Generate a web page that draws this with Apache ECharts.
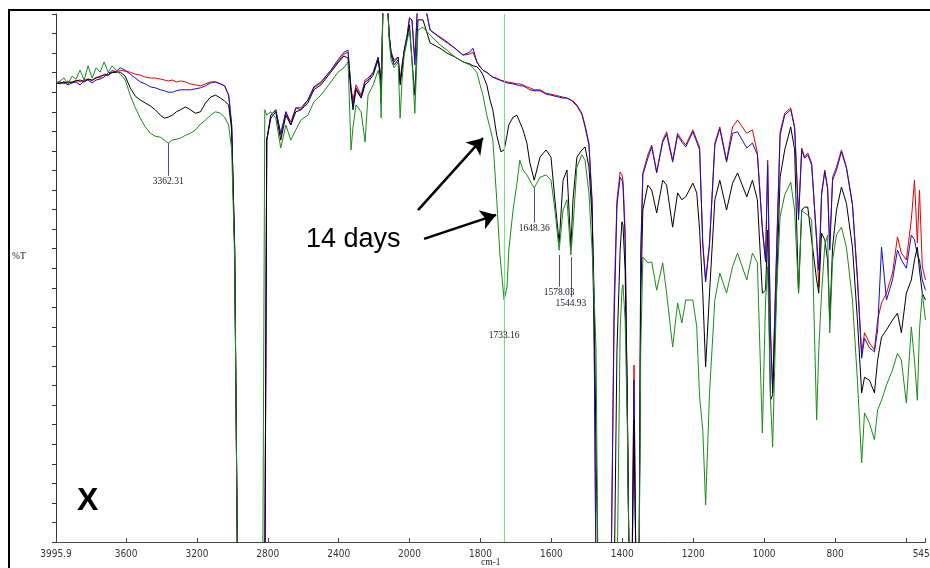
<!DOCTYPE html>
<html><head><meta charset="utf-8">
<script src="https://cdn.jsdelivr.net/npm/echarts@6/dist/echarts.min.js"></script>
<style>html,body{margin:0;padding:0;background:#fff}#c{width:930px;height:568px}</style>
</head><body><div id="c"></div>
<script>
// wavenumbers (cm-1) shared by the four spectra
const wavenumbers = [3995.9,3973,3951,3928,3905,3883,3860,3837,3815,3792,3769,3747,3724,3701,3679,3656,3633,3605,3577,3548,3520,3492,3463,3435,3407,3384,3362.31,3339,3316,3293,3265,3237,3208,3180,3152,3123,3095,3067,3044,3021,3004,2987,2970,2829,2817,2806,2783,2755,2727,2698,2670,2642,2613,2574,2540,2500,2444,2404,2370,2347,2330,2319,2302,2273,2251,2234,2205,2177,2166,2160,2149,2126,2115,2104,2087,2064,2053,2042,2030,2013,2000,
1993,1985,1976,1962,1942,1914,1894,1872,1849,1830,1821,1810,1801,1793,1782,1773,1765,1754,1745,1742,1733.16,1725,1720,1708,1697,1689,1680,1669,1661,1648.36,1632,1615,1601,1590,1578.03,1567,1556,1544.93,1539,1528,1514,1505,1494,1485,1479,1474,1468,1432,1423,1415,1406,1401,1398,1392,1386,1380,1373,1367,1361,1353,1348,1342,1328,1317,1303,1286,1275,1258,1244,1232,1221,1201,1190,1182,1173,1165,1154,1139,1125,1106,1089,1075,1049,1033,1019,1005,996,990,982,976,965,955,942,925,914,903,894,886,877,866,852,846,838,829,821,815,807,796,782,768,751,737,725,717,703,689,680,669,655,638,624,613,599,585,576,568,562,554,545];

// %T values (arbitrary %T scale, 0-108)
const redT = [93.9,94.1,93.7,94.3,93.9,94.5,94.1,94.5,94.7,94.3,95.1,94.9,95.7,95.5,96.5,96.1,96.5,96.3,96.1,95.7,95.5,95.1,94.9,94.9,94.7,94.5,94.3,94.5,94.1,94.3,94.1,93.7,93.5,93.3,93.7,94.1,94.1,93.7,93.3,91.4,85.3,59.7,-10,-10,-10,82.2,87.3,88.4,83.2,88.0,85.9,88.8,88.4,90.4,92.9,93.9,96.5,98.2,99.8,100.2,92.9,90.4,93.5,91.4,94.5,94.9,96.1,99.0,96.5,90.4,112,112,103.7,100.2,98.6,99.2,94.5,97.6,100.6,103.7,107.2,
106.8,98.6,112,112,104.7,103.1,102.1,101.0,99.6,99.8,100.2,98.2,97.2,96.5,96.1,95.5,95.1,94.9,94.5,94.5,94.3,94.1,94.1,93.9,93.7,93.7,93.5,93.1,92.9,92.5,92.5,91.8,91.6,91.4,91.2,91.0,90.8,90.4,90.2,89.4,87.7,85.3,81.6,70.0,39.3,-10,-10,-10,49.5,70.0,75.7,75.1,74.0,63.8,29.0,-10,-10,36.2,-10,-10,59.7,75.5,79.2,81.2,75.7,82.2,83.9,78.1,83.6,82.2,81.2,84.3,82.2,80.8,61.2,53.6,61.2,81.6,84.9,78.1,84.9,86.3,83.6,84.3,79.6,64.4,57.7,78.1,43.4,31.1,59.7,83.9,87.7,88.8,84.9,66.9,80.6,78.7,79.6,77.5,61.2,52.2,71.4,76.1,72.6,60.3,74.6,76.7,80.2,76.7,69.3,54.2,38.6,42.8,40.7,39.3,45.4,48.9,50.9,55.0,62.4,59.1,57.7,65.9,74.0,61.2,72.0,56.3,53.6];
const blueT = [93.9,93.7,94.1,93.5,93.9,94.1,93.5,94.3,94.5,93.9,94.5,94.7,95.1,96.0,96.1,96.3,97.0,96.5,95.7,94.9,94.1,93.7,93.1,92.9,92.5,92.3,92.0,92.0,92.3,92.5,92.5,92.5,92.7,92.9,93.3,93.9,94.1,93.7,93.3,91.4,85.3,59.7,-10,-10,-10,82.2,87.3,88.4,83.6,88.0,85.3,88.8,88.8,90.4,93.1,94.1,96.5,98.6,100.2,100.6,92.5,89.4,92.9,91.0,94.1,94.5,96.0,99.2,96.1,90.4,112,112,103.7,100.2,98.2,99.2,93.9,97.2,100.6,103.7,107.2,
106.8,97.6,112,112,104.7,103.3,102.3,101.0,99.6,100.2,101.0,98.2,97.2,96.5,96.0,95.5,95.1,94.7,94.5,94.3,94.1,93.9,93.9,93.7,93.5,93.3,93.3,92.9,92.5,92.3,92.3,91.6,91.4,91.2,91.0,90.8,90.8,90.4,90.0,89.2,87.5,84.9,81.2,68.9,39.3,-10,-10,-10,45.4,68.9,74.6,74.0,73.0,61.8,29.0,-10,-10,33.1,-10,-10,57.7,75.1,78.5,80.8,75.5,81.8,83.4,77.7,83.2,81.8,80.8,83.9,81.8,80.2,60.7,53.2,60.7,81.2,84.5,77.7,83.6,83.9,80.6,81.6,79.2,63.8,57.3,77.1,42.3,30.5,58.7,83.2,87.3,88.4,84.7,65.9,80.2,78.5,79.2,77.1,62.2,55.6,71.0,75.7,72.2,59.7,74.0,76.1,79.8,76.5,68.9,53.6,37.6,41.7,39.7,38.9,43.4,60.3,49.5,53.6,59.7,57.7,56.0,62.8,61.8,58.7,57.7,53.6,51.5];
const blackT = [93.9,93.9,94.1,93.9,94.1,94.3,94.5,94.1,94.7,94.5,94.9,95.3,95.5,95.5,96.0,96.1,96.1,95.3,92.9,91.2,90.4,89.8,89.2,88.4,87.3,86.7,86.9,87.3,88.0,88.4,89.0,88.4,87.7,88.0,89.8,91.0,91.4,90.8,90.2,89.4,84.3,59.7,-10,-10,-10,82.2,86.7,88.0,82.2,87.3,85.3,88.0,88.4,89.8,92.5,93.5,96.1,98.0,99.4,99.0,92.0,88.4,92.5,90.8,93.5,94.1,95.5,98.6,95.5,89.8,112,112,103.7,99.6,97.6,98.6,93.5,96.5,100.2,103.1,105.8,
98.6,91.4,106.8,106.8,102.1,101.0,100.0,99.2,98.2,97.8,97.4,97.2,96.5,95.5,93.5,90.4,88.4,83.2,80.6,79.8,80.2,83.2,85.3,86.9,87.3,85.9,84.3,81.6,77.7,74.0,78.7,80.2,78.7,70.0,61.2,74.0,76.1,60.3,70.0,78.7,80.2,80.8,76.7,66.5,49.5,18.8,-10,-10,-10,39.3,59.7,65.5,64.8,55.6,29.0,-10,-10,25.0,-10,-10,49.5,67.9,73.0,72.0,67.3,74.0,73.0,64.4,71.4,70.0,70.6,73.4,71.4,63.8,50.9,35.8,50.9,70.0,74.0,67.9,73.4,75.5,70.6,74.0,70.0,50.9,51.5,63.8,29.0,30.1,51.5,74.6,80.2,84.9,80.2,50.9,67.9,68.5,68.5,61.8,53.6,50.9,63.2,61.8,57.7,45.4,60.3,67.9,72.6,69.3,60.3,45.4,30.5,33.7,33.1,30.5,37.2,41.9,43.4,45.4,46.8,42.8,50.9,53.6,57.7,60.3,55.6,50.9,49.5];
const greenT = [93.9,94.3,94.9,93.7,95.3,94.7,96.5,94.5,97.4,94.9,97.0,96.1,98.2,96.1,97.4,96.5,95.7,94.5,91.4,88.8,86.7,84.9,83.6,83.0,82.8,82.2,81.6,82.2,82.4,82.6,83.2,83.6,84.3,85.5,86.3,87.3,88.0,87.7,86.9,85.3,80.2,57.7,-10,-10,88.4,87.3,88.0,86.7,80.6,85.3,82.2,84.3,86.3,87.3,90.0,91.4,94.1,96.1,97.0,98.2,80.2,84.9,89.4,88.0,81.8,91.4,93.5,96.5,94.5,86.7,112,112,102.7,98.6,97.0,98.2,86.7,94.5,99.6,102.7,104.7,
98.6,87.7,104.7,105.3,103.7,101.7,100.6,99.2,98.2,97.6,97.0,96.0,93.5,91.4,87.3,84.7,82.2,70.0,58.7,56.3,49.5,52.2,59.7,67.9,73.4,78.1,76.1,75.1,74.0,72.4,74.6,75.1,74.0,67.9,59.7,67.9,70.0,58.7,64.4,76.7,79.2,78.1,71.4,59.7,49.5,39.3,-10,-10,-10,-10,43.4,51.5,52.6,45.4,25.0,-10,-10,-10,-10,-10,39.3,58.3,57.1,57.3,51.5,57.1,50.9,39.9,48.9,44.8,49.5,49.5,44.0,29.6,22.9,7.6,30.5,49.5,55.0,50.9,56.3,59.1,53.6,59.1,57.1,22.3,49.5,56.3,29.0,19.4,50.9,66.5,71.0,73.6,67.9,50.9,67.9,67.3,66.9,65.9,25.0,39.3,50.9,60.7,62.8,42.8,57.7,62.8,64.4,60.3,49.5,33.1,16.2,26.4,24.3,20.9,27.0,29.0,32.1,35.2,38.6,37.2,28.4,44.0,37.2,29.0,43.4,50.9,45.4];

// axis ticks
const ticksHigh = [3995.9, 3600, 3200, 2800, 2400, 2000];
const ticksLow = [2000, 1800, 1600, 1400, 1200, 1000, 800, 600, 545];
const labelsLow = [1800, 1600, 1400, 1200, 1000, 800, 545];

// labelled peaks: wavenumber, %T at the band, %T at marker foot
const peakWn = [3362.31, 1733.16, 1648.36, 1578.03, 1544.93];
const peakTop = [81.6, 49.5, 72.4, 58.7, 58.3];
const peakFoot = [74.9, 43.4, 65.3, 52.2, 50.1];

// "14 days" arrows: [from wn, from %T, to wn, to %T]
const arrows = [[1976, 67.9, 1793, 82.6], [1959, 62.0, 1756, 66.9]];

const colors = { red: '#e00000', blue: '#1010c8', black: '#000000', green: '#1a8a1a' };

function pairs(arr, hi) {
  const out = [];
  wavenumbers.forEach((w, i) => {
    if (hi ? w >= 2000 : w <= 2000) out.push([w, arr[i]]);
  });
  return out;
}

const tickFont = { fontFamily: "'Liberation Sans Narrow','DejaVu Sans Condensed',sans-serif", fontSize: 10, color: '#333' };
const serif = "'Liberation Serif','DejaVu Serif',serif";

function peakLine(i) {
  const c = peakWn[i] === 1733.16 ? '#c8406a' : '#4848a8';
  return [
    { coord: [peakWn[i], peakTop[i]], lineStyle: { color: c, width: 1, type: 'solid' },
      label: { show: true, position: 'end', distance: 1, formatter: String(peakWn[i]), fontFamily: serif, fontSize: 9.5, color: '#222' } },
    { coord: [peakWn[i], peakFoot[i]] }
  ];
}

const specs = [['red', redT], ['blue', blueT], ['black', blackT], ['green', greenT]];
const series = [];
[true, false].forEach((hi, gi) => {
  specs.forEach(([name, arr]) => {
    const s = {
      type: 'line', name: name, xAxisIndex: gi, yAxisIndex: gi,
      data: pairs(arr, hi), showSymbol: false, symbol: 'none', clip: true,
      lineStyle: { color: colors[name], width: 1 }, itemStyle: { color: colors[name] },
      silent: true, z: 3
    };
    if (name === 'green') {
      const ml = [];
      peakWn.forEach((w, i) => { if ((w >= 2000) === hi) ml.push(peakLine(i)); });
      s.markLine = { silent: true, symbol: ['none', 'none'], animation: false, data: ml };
    }
    series.push(s);
  });
});
// vertical reference line at 1733.16 and arrows in the lower range
series.push({
  type: 'line', xAxisIndex: 1, yAxisIndex: 1, data: [], silent: true, z: 2,
  markLine: {
    silent: true, symbol: ['none', 'none'], animation: false, label: { show: false },
    lineStyle: { color: '#78e08a', width: 1, type: 'solid' },
    data: [{ xAxis: peakWn[1] }]
  }
});
series.push({
  type: 'line', xAxisIndex: 1, yAxisIndex: 1, data: [], silent: true, z: 5,
  markLine: {
    silent: true, symbol: ['none', 'arrow'], symbolSize: 15, animation: false,
    label: { show: false },
    lineStyle: { color: '#000', width: 2.5, type: 'solid' },
    itemStyle: { color: '#000' },
    data: arrows.map(a => [{ coord: [a[0], a[1]] }, { coord: [a[2], a[3]] }])
  }
});

const chart = echarts.init(document.getElementById('c'), null, { renderer: 'canvas' });
chart.setOption({
  animation: false,
  backgroundColor: '#fff',
  grid: [
    { left: 56, top: 14, width: 353.5, height: 528, outerBoundsMode: 'none', containLabel: false },
    { left: 409.5, top: 14, width: 516, height: 528, outerBoundsMode: 'none', containLabel: false }
  ],
  xAxis: [
    { type: 'value', gridIndex: 0, min: 2000, max: 3995.9, inverse: true, splitLine: { show: false },
      axisLine: { onZero: false, lineStyle: { color: '#444', width: 1 } },
      axisTick: { inside: true, length: 4, customValues: ticksHigh, lineStyle: { color: '#444' } },
      axisLabel: Object.assign({ customValues: ticksHigh, margin: 7, showMinLabel: true, showMaxLabel: true,
        formatter: v => String(v) }, tickFont) },
    { type: 'value', gridIndex: 1, min: 545, max: 2000, inverse: true, splitLine: { show: false },
      axisLine: { onZero: false, lineStyle: { color: '#444', width: 1 } },
      axisTick: { inside: true, length: 4, customValues: ticksLow, lineStyle: { color: '#444' } },
      axisLabel: Object.assign({ customValues: labelsLow, margin: 7, showMinLabel: true, showMaxLabel: true,
        formatter: v => (v === 545 ? '545.0' : String(v)) }, tickFont) }
  ],
  yAxis: [
    { type: 'value', gridIndex: 0, min: 0, max: 108, interval: 4, splitLine: { show: false },
      axisLine: { show: true, onZero: false, lineStyle: { color: '#333', width: 1 } },
      axisTick: { show: true, inside: false, length: 4, lineStyle: { color: '#333' } },
      axisLabel: { show: false } },
    { type: 'value', gridIndex: 1, min: 0, max: 108, interval: 4, show: false }
  ],
  series: series,
  graphic: [
    { type: 'rect', shape: { x: 8, y: 9, width: 922, height: 2 }, style: { fill: '#000' }, silent: true },
    { type: 'rect', shape: { x: 8, y: 9, width: 2, height: 559 }, style: { fill: '#000' }, silent: true },
    { type: 'text', left: 12, top: 251, style: { text: '%T', font: "9.5px " + serif, fill: '#222' }, silent: true },
    { type: 'text', left: 481, top: 557, style: { text: 'cm-1', font: "9.5px " + serif, fill: '#222' }, silent: true },
    { type: 'text', left: 306, top: 226, style: { text: '14 days', font: "27px 'Liberation Sans',Arial,sans-serif", fill: '#000' }, silent: true },
    { type: 'text', left: 77, top: 485, style: { text: 'X', font: "bold 32px 'Liberation Sans',Arial,sans-serif", fill: '#000' }, silent: true }
  ]
});
</script>
</body></html>
